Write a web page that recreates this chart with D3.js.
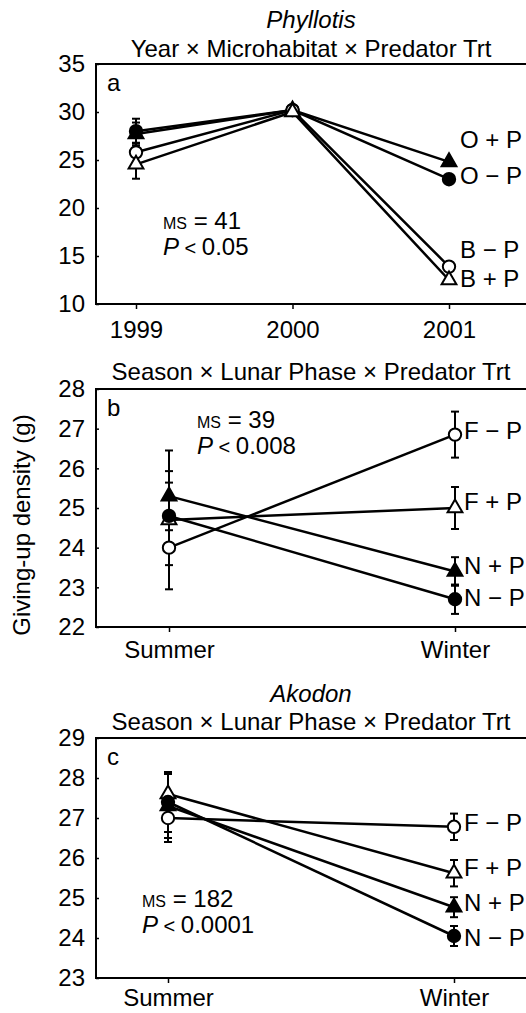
<!DOCTYPE html>
<html>
<head>
<meta charset="utf-8">
<script src="https://cdn.jsdelivr.net/npm/d3@7"></script>
<style>
  body { margin: 0; background: white; }
  svg { display: block; font-family: "Liberation Sans", Arial, sans-serif; }
</style>
</head>
<body>
<div id="chart"></div>
<script>
// ---- data ----
const years = ['1999', '2000', '2001'];
const seasons = ['Summer', 'Winter'];

// panel a: Phyllotis, microhabitat (O/B) x predator
const aLabels = ['O + P', 'O \u2212 P', 'B \u2212 P', 'B + P'];
const aMeans  = [[27.7, 30.2, 24.8], [28.0, 30.2, 23.0], [25.8, 30.2, 13.9], [24.55, 30.0, 12.5]];
const aErrs   = [[1.2, 0.3, 0.3], [1.3, 0.3, 0.3], [1.0, 0.3, 0.3], [1.5, 0.3, 0.3]];
const aTicks  = [10, 15, 20, 25, 30, 35];

// panel b: Phyllotis, lunar phase (F/N) x predator
const bLabels = ['F \u2212 P', 'F + P', 'N + P', 'N \u2212 P'];
const bMeans  = [[24.0, 26.85], [24.7, 25.0], [25.3, 23.4], [24.8, 22.7]];
const bErrs   = [[0.44, 0.58], [1.75, 0.53], [0.63, 0.36], [0.84, 0.37]];
const bTicks  = [22, 23, 24, 25, 26, 27, 28];

// panel c: Akodon
const cLabels = ['F \u2212 P', 'F + P', 'N + P', 'N \u2212 P'];
const cMeans  = [[27.0, 26.78], [27.6, 25.62], [27.3, 24.77], [27.4, 24.05]];
const cErrs   = [[0.6, 0.33], [0.55, 0.33], [0.8, 0.25], [0.75, 0.25]];
const cTicks  = [23, 24, 25, 26, 27, 28, 29];

// marker style for each series: symbol + filled?
const aStyles = [['tri', true], ['circ', true], ['circ', false], ['tri', false]];
const bcStyles = [['circ', false], ['tri', false], ['tri', true], ['circ', true]];

// ---- layout ----
const W = 526, H = 1013;
const FS = 24;

const panels = [
  { id: 'a', cats: years, labels: aLabels, means: aMeans, errs: aErrs, ticks: aTicks, styles: aStyles,
    top: 64, bottom: 304, xr: [136, 449], labelX: 460, xPad: 12,
    labelAt: [27.08, 23.33, 15.63, 12.6],
    italicTitle: 'Phyllotis', italicY: 28,
    title: 'Year \u00d7 Microhabitat \u00d7 Predator Trt', titleY: 57,
    ms: '41', p: '0.05', statX: 163, statY: 229 },
  { id: 'b', cats: seasons, labels: bLabels, means: bMeans, errs: bErrs, ticks: bTicks, styles: bcStyles,
    top: 389, bottom: 627, xr: [169, 455], labelX: 464, xPad: 9,
    labelAt: [26.94, 25.15, 23.54, 22.73],
    title: 'Season \u00d7 Lunar Phase \u00d7 Predator Trt', titleY: 380,
    ms: '39', p: '0.008', statX: 197, statY: 428 },
  { id: 'c', cats: seasons, labels: cLabels, means: cMeans, errs: cErrs, ticks: cTicks, styles: bcStyles,
    top: 738, bottom: 978, xr: [168, 454], labelX: 464, xPad: 6,
    labelAt: [26.88, 25.75, 24.88, 24.0],
    italicTitle: 'Akodon', italicY: 702,
    title: 'Season \u00d7 Lunar Phase \u00d7 Predator Trt', titleY: 730,
    ms: '182', p: '0.0001', statX: 142, statY: 907 }
];

const frameLeft = 96, frameRight = 545;

const svg = d3.select('#chart').append('svg')
  .attr('width', W)
  .attr('height', H);

panels.forEach(pn => {
  const g = svg.append('g');

  const x = d3.scalePoint().domain(pn.cats).range(pn.xr);
  const y = d3.scaleLinear()
    .domain(d3.extent(pn.ticks))
    .range([pn.bottom, pn.top]);

  // frame (top + left + bottom; right edge runs off the page)
  g.append('path')
    .attr('d', `M${frameRight},${pn.top}H${frameLeft}V${pn.bottom}H${frameRight}`)
    .attr('fill', 'none')
    .attr('stroke', '#000')
    .attr('stroke-width', 2);

  // y axis
  const ya = g.append('g')
    .attr('transform', `translate(${frameLeft},0)`)
    .call(d3.axisLeft(y).tickValues(pn.ticks).tickFormat(d3.format('d'))
      .tickSizeInner(-3).tickSizeOuter(0).tickPadding(11));
  ya.select('.domain').remove();
  ya.selectAll('line').attr('stroke', '#000').attr('stroke-width', 1.5);
  ya.selectAll('text').style('font-size', FS + 'px').attr('fill', '#000').attr('x', -11);

  // x axis
  const xa = g.append('g')
    .attr('transform', `translate(0,${pn.bottom})`)
    .call(d3.axisBottom(x).tickSize(5).tickSizeOuter(0).tickPadding(pn.xPad));
  xa.select('.domain').remove();
  xa.selectAll('line').attr('stroke', '#000').attr('stroke-width', 1.5);
  xa.selectAll('text').style('font-size', FS + 'px').attr('fill', '#000');

  // titles
  if (pn.italicTitle) {
    g.append('text')
      .attr('x', 311).attr('y', pn.italicY)
      .attr('text-anchor', 'middle')
      .style('font-size', FS + 'px')
      .style('font-style', 'italic')
      .text(pn.italicTitle);
  }
  g.append('text')
    .attr('x', 311).attr('y', pn.titleY)
    .attr('text-anchor', 'middle')
    .style('font-size', FS + 'px')
    .text(pn.title);

  // panel letter
  g.append('text')
    .attr('x', 107).attr('y', pn.top + 27)
    .style('font-size', FS + 'px')
    .text(pn.id);

  // statistics
  const ms = g.append('text')
    .attr('x', pn.statX).attr('y', pn.statY)
    .style('font-size', FS + 'px');
  ms.append('tspan').style('font-size', '16px').text('MS');
  ms.append('tspan').text(' = ' + pn.ms);
  const pt = g.append('text')
    .attr('x', pn.statX).attr('y', pn.statY + 26)
    .style('font-size', FS + 'px');
  pt.append('tspan').style('font-style', 'italic').text('P');
  pt.append('tspan').style('font-size', '20px').text(' < ');
  pt.append('tspan').text(pn.p);

  // series
  const series = pn.means.map((m, i) => ({
    label: pn.labels[i],
    shape: pn.styles[i][0],
    filled: pn.styles[i][1],
    labelAt: pn.labelAt[i],
    pts: m.map((v, j) => ({ cat: pn.cats[j], v: v, e: pn.errs[i][j] }))
  }));

  const line = d3.line().x(d => x(d.cat)).y(d => y(d.v));

  g.selectAll('.ln').data(series).enter()
    .append('path')
    .attr('fill', 'none')
    .attr('stroke', '#000')
    .attr('stroke-width', 2.5)
    .attr('d', d => line(d.pts));

  // error bars
  series.forEach(s => {
    s.pts.forEach(p => {
      const cx = x(p.cat);
      const eb = g.append('g').attr('stroke', '#000').attr('stroke-width', 2);
      eb.append('line').attr('x1', cx).attr('x2', cx).attr('y1', y(p.v - p.e)).attr('y2', y(p.v + p.e));
      [p.v - p.e, p.v + p.e].forEach(v => {
        eb.append('line').attr('x1', cx - 4).attr('x2', cx + 4).attr('y1', y(v)).attr('y2', y(v));
      });
    });
  });

  // markers
  const circ = d3.symbol().type(d3.symbolCircle).size(120);
  const tri = d3.symbol().type(d3.symbolTriangle).size(95);
  series.forEach(s => {
    s.pts.forEach(p => {
      g.append('path')
        .attr('transform', `translate(${x(p.cat)},${y(p.v)})`)
        .attr('d', s.shape === 'circ' ? circ() : tri())
        .attr('fill', s.filled ? '#000' : '#fff')
        .attr('stroke', '#000')
        .attr('stroke-width', 2);
    });
    // series label at the right end
    g.append('text')
      .attr('x', pn.labelX)
      .attr('y', y(s.labelAt))
      .attr('dy', '0.35em')
      .style('font-size', FS + 'px')
      .text(s.label);
  });
});

// shared y axis label
svg.append('text')
  .attr('transform', 'translate(30,525) rotate(-90)')
  .attr('text-anchor', 'middle')
  .style('font-size', FS + 'px')
  .text('Giving-up density (g)');
</script>
</body>
</html>
